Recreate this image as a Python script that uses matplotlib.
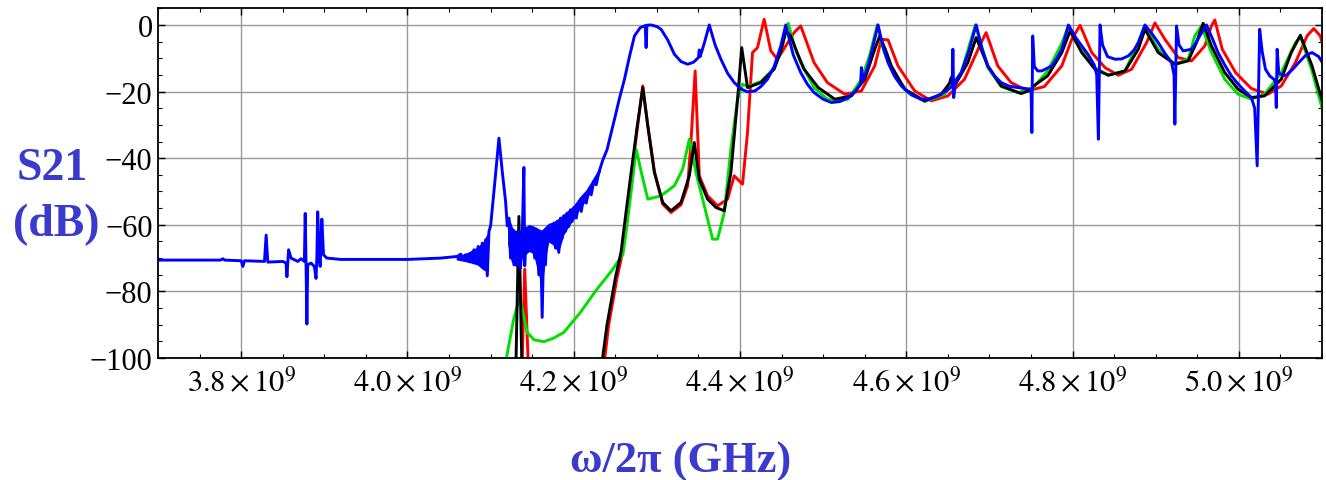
import numpy as np
import matplotlib
matplotlib.use("Agg")
import matplotlib.pyplot as plt
from matplotlib.ticker import MultipleLocator, FuncFormatter

plt.rcParams['font.family'] = 'serif'
plt.rcParams['font.serif'] = ['Liberation Serif', 'DejaVu Serif']
plt.rcParams['mathtext.fontset'] = 'stix'

nan = np.nan

# frequencies in GHz, S21 in dB
blue_f = [3.700, 3.775, 3.778, 3.780, 3.800, 3.802, 3.804, 3.828, 3.830, 3.832,
          3.850, 3.854, 3.855, 3.857, 3.860, 3.868, 3.872, 3.876, 3.877, 3.878,
          3.879, 3.880, 3.884, 3.888, 3.890, 3.891, 3.892, 3.894, 3.895, 3.897,
          3.899, 3.903, 3.920, 4.000, 4.040, 4.060, 4.064, 4.066, 4.070, 4.075,
          4.080, 4.082, 4.085, 4.087, 4.090, 4.092, 4.094, 4.096, 4.098, 4.100,
          4.104, 4.110, 4.114, 4.118, 4.120, 4.122,
          4.124, 4.126, 4.128, 4.130, 4.132, 4.134, 4.136, 4.138, 4.140, 4.141,
          4.143, 4.145, 4.147, 4.149, 4.151, 4.153, 4.155, 4.158, 4.160, 4.162,
          4.164, 4.166, 4.168, 4.170, 4.172, 4.174, 4.176, 4.178, 4.180, 4.182,
          4.184, 4.186, 4.188, 4.190, 4.192, 4.194, 4.196, 4.198, 4.200, 4.203,
          4.206, 4.209, 4.212, 4.215, 4.218, 4.221, 4.224, 4.227, 4.230, 4.235,
          4.240, 4.249, 4.255, 4.261, 4.267, 4.273, 4.280, 4.286, 4.287, 4.288,
          4.293, 4.300, 4.305, 4.313, 4.321, 4.329, 4.337, 4.344, 4.350, 4.351,
          4.352, 4.357, 4.363, 4.370, 4.377, 4.385, 4.393, 4.401, 4.409, 4.418,
          4.425, 4.433, 4.441, 4.449, 4.455, 4.464, 4.473, 4.481, 4.489, 4.500,
          4.510, 4.520, 4.530, 4.540, 4.545, 4.546, 4.548, 4.553, 4.558, 4.566,
          4.572, 4.578, 4.586, 4.594, 4.606, 4.618, 4.628, 4.638, 4.648, 4.655,
          4.656, 4.657, 4.659, 4.666, 4.675, 4.684, 4.691, 4.698, 4.706, 4.714,
          4.724, 4.734, 4.744, 4.750, 4.751, 4.752, 4.754, 4.758, 4.763, 4.775,
          4.781, 4.787, 4.795, 4.803, 4.811, 4.819, 4.826, 4.829, 4.831, 4.833,
          4.836, 4.842, 4.851, 4.859, 4.867, 4.874, 4.879, 4.887, 4.895, 4.903,
          4.911, 4.919, 4.922, 4.923, 4.925, 4.928, 4.933, 4.943, 4.948, 4.953,
          4.961, 4.968, 4.975, 4.983, 4.991, 5.000, 5.007, 5.015, 5.019, 5.022,
          5.025, 5.028, 5.032, 5.037, 5.042, 5.044, 5.045, 5.046, 5.048, 5.056,
          5.064, 5.072, 5.080, 5.088, 5.096, 5.104]
blue_db = [-70.6, -70.6, -70.2, -70.6, -70.8, -72.5, -70.8, -71.0, -63.1, -71.2,
           -71.0, -71.5, -75.6, -67.5, -70.0, -71.0, -70.2, -71.0, -56.6, -72.0,
           -89.8, -72.0, -71.5, -72.5, -76.1, -70.0, -56.1, -70.0, -72.5, -58.3,
           -69.0, -70.0, -70.4, -70.4, -70.0, -69.5, -68.8, -70.0, -69.0, -70.5,
           -67.5, -71.0, -66.5, -72.0, -65.5, -73.0, -64.5, -75.3, -62.0, -60.3,
           -50.0, -34.0, -44.0, -53.0, -60.3, -58.0,
           -70.0, -62.0, -72.0, -63.0, -72.3, -62.0, -73.0, -64.0, -42.8, -72.3,
           -61.0, -68.0, -60.5, -68.0, -61.0, -70.0, -61.3, -75.0, -63.0, -87.8,
           -63.0, -72.0, -61.0, -65.0, -60.0, -64.0, -59.5, -67.0, -59.0, -68.3,
           -58.0, -64.0, -57.3, -62.0, -56.5, -60.5, -55.5, -59.0, -54.8, -58.0,
           -53.5, -56.0, -51.5, -53.5, -49.5, -51.0, -47.0, -48.0, -44.5, -40.5,
           -37.5, -28.3, -22.0, -16.3, -9.5, -3.3, -0.8, -0.2, -6.8, -0.1,
           0.0, -0.5, -1.3, -4.5, -8.8, -11.0, -11.8, -11.2, -9.8, -7.5,
           -9.5, -5.5, 0.0, -6.0, -10.3, -14.5, -17.3, -19.2, -20.1, -19.8,
           -18.5, -16.3, -12.5, -6.3, 0.0, -9.0, -14.3, -17.8, -20.3, -22.3,
           -23.3, -23.0, -21.8, -19.5, -17.5, -12.8, -16.5, -13.0, -8.3, 0.0,
           -6.5, -11.3, -15.5, -18.3, -21.0, -22.3, -22.2, -21.3, -19.8, -18.5,
           -7.3, -21.8, -17.0, -14.3, -8.0, 0.0, -7.0, -12.3, -15.3, -17.3,
           -18.4, -18.8, -19.1, -19.3, -32.3, -3.3, -12.5, -13.8, -13.8, -12.3,
           -10.0, -7.3, 0.0, -3.5, -6.3, -9.0, -12.0, -15.0, -34.3, 0.0,
           -6.0, -9.5, -10.3, -10.2, -9.3, -7.5, -5.3, 0.0, -2.5, -5.3,
           -8.5, -11.3, -15.0, -29.8, -0.3, -6.0, -7.8, -7.3, -5.5, -3.3,
           0.0, -4.0, -8.3, -12.0, -15.3, -18.0, -19.8, -21.8, -25.0, -42.3,
           -1.3, -8.0, -13.3, -15.3, -16.3, -17.0, -24.8, -7.3, -14.5, -15.3,
           -13.5, -11.3, -9.2, -8.3, -9.5, -12.8]

# envelope of the densely ringing parts of the blue trace
band_f = [4.060, 4.070, 4.078, 4.085, 4.092, 4.097, nan,
          4.122, 4.126, 4.130, 4.134, 4.138, 4.142, 4.146, 4.150, 4.154, 4.158,
          4.162, 4.166, 4.170, 4.176, 4.182, 4.188, 4.194, 4.200, 4.208, 4.216,
          4.224, 4.232]
band_top = [-69.5, -69.0, -68.0, -67.0, -65.5, -63.0, nan,
            -58.0, -61.0, -62.0, -62.0, -62.0, -61.0, -60.5, -60.5, -61.0, -61.5,
            -62.0, -61.0, -60.0, -59.5, -58.5, -57.3, -56.0, -54.8, -52.0, -49.8,
            -46.5, -43.0]
band_bot = [-70.5, -71.0, -71.5, -72.0, -73.5, -74.0, nan,
            -66.0, -71.0, -72.3, -72.3, -70.0, -69.0, -68.0, -68.0, -70.0, -74.0,
            -78.0, -70.0, -65.0, -66.0, -68.0, -63.0, -60.5, -58.3, -55.0, -52.3,
            -48.0, -44.0]

black_f = [4.129, 4.134, 4.139, nan,
           4.224, 4.240, 4.250, 4.257, 4.263, 4.269, 4.276, 4.283, 4.289, 4.297,
           4.307, 4.317, 4.329, 4.339, 4.345, 4.351, 4.361, 4.371, 4.381, 4.389,
           4.397, 4.402, 4.409, 4.425, 4.441, 4.449, 4.455, 4.461, 4.469, 4.477,
           4.494, 4.514, 4.534, 4.550, 4.562, 4.568, 4.575, 4.582, 4.598, 4.622,
           4.642, 4.652, 4.654, 4.658, 4.674, 4.684, 4.698, 4.714, 4.738, 4.750,
           4.752, 4.770, 4.787, 4.797, 4.811, 4.827, 4.843, 4.863, 4.879, 4.887,
           4.903, 4.923, 4.939, 4.949, 4.957, 4.967, 4.983, 4.999, 5.015, 5.031,
           5.051, 5.063, 5.074, 5.088, 5.102]
black_db = [-120, -57.5, -120, nan,
            -120, -90.0, -76.0, -68.0, -56.0, -44.3, -31.0, -18.8, -30.3, -44.3,
            -53.3, -55.8, -53.3, -45.3, -35.3, -46.3, -52.3, -54.8, -55.8, -44.3,
            -22.3, -6.8, -18.8, -17.3, -13.3, -8.0, -1.8, -3.3, -8.5, -13.3,
            -18.8, -22.3, -21.3, -16.3, -7.3, -3.3, -7.5, -12.3, -19.3, -22.8,
            -20.8, -17.5, -15.8, -18.3, -11.3, -3.8, -12.3, -18.3, -20.6, -19.5,
            -18.5, -15.3, -8.3, -1.8, -8.3, -13.3, -15.1, -13.8, -7.3, -1.3,
            -8.3, -11.8, -10.8, -5.3, 0.5, -6.3, -14.3, -19.3, -21.8, -21.3,
            -16.3, -8.3, -3.1, -12.3, -24.3]

red_f = [4.136, 4.141, 4.148, nan,
         4.228, 4.242, 4.252, 4.259, 4.265, 4.271, 4.277, 4.283, 4.289, 4.297,
         4.307, 4.317, 4.329, 4.337, 4.341, 4.346, 4.351, 4.361, 4.373, 4.385,
         4.393, 4.403, 4.409, 4.415, 4.421, 4.429, 4.437, 4.445, 4.455, 4.465,
         4.473, 4.489, 4.505, 4.526, 4.546, 4.562, 4.570, 4.578, 4.590, 4.610,
         4.630, 4.650, 4.670, 4.690, 4.696, 4.710, 4.726, 4.746, 4.766, 4.787,
         4.799, 4.809, 4.823, 4.839, 4.855, 4.871, 4.889, 4.899, 4.911, 4.927,
         4.943, 4.959, 4.967, 4.971, 4.980, 4.996, 5.015, 5.035, 5.051, 5.068,
         5.082, 5.090, 5.098, 5.104]
red_db = [-120, -73.3, -120, nan,
          -120, -90.0, -76.0, -68.0, -55.0, -42.0, -30.0, -18.3, -30.0, -44.0,
          -53.8, -56.3, -54.0, -48.3, -35.0, -13.8, -45.3, -51.3, -54.3, -52.3,
          -45.3, -47.8, -32.3, -8.3, -6.8, 1.7, -7.8, -10.3, -6.3, -2.3,
          -0.3, -11.3, -17.3, -20.8, -19.8, -12.3, -4.3, -4.5, -12.3, -19.8,
          -22.8, -21.3, -16.3, -5.3, -2.3, -12.3, -17.3, -19.8, -18.5, -12.3,
          -4.3, -0.1, -8.3, -12.8, -15.1, -13.3, -5.3, 0.6, -4.3, -9.8,
          -10.8, -6.3, -0.3, 1.5, -7.3, -14.3, -19.1, -20.8, -18.3, -11.3,
          -3.3, -1.1, -3.3, -9.0]

green_f = [4.116, 4.119, 4.128, 4.135, 4.144, 4.152, 4.164, 4.176, 4.188, 4.208,
           4.228, 4.245, 4.259, 4.263, 4.269, 4.275, 4.282, 4.289, 4.305, 4.321,
           4.331, 4.339, 4.347, 4.357, 4.367, 4.373, 4.381, 4.389, 4.397, 4.403,
           4.409, 4.425, 4.441, 4.450, 4.458, 4.466, 4.473, 4.489, 4.505, 4.520,
           4.530, 4.546, 4.556, 4.565, 4.573, 4.582, 4.602, 4.622, 4.646, 4.666,
           4.683, 4.698, 4.714, 4.734, 4.752, 4.770, 4.787, 4.795, 4.811, 4.827,
           4.843, 4.863, 4.879, 4.887, 4.903, 4.923, 4.939, 4.947, 4.955, 4.967,
           4.983, 4.999, 5.015, 5.031, 5.051, 5.068, 5.074, 5.088, 5.102]
green_db = [-110, -100.0, -88.0, -81.8, -92.3, -94.5, -95.1, -94.0, -92.3, -86.3,
            -79.3, -74.0, -69.0, -62.0, -50.0, -37.3, -45.0, -52.3, -51.3, -48.3,
            -43.3, -34.3, -44.3, -54.3, -64.3, -64.3, -56.3, -37.3, -22.3, -17.8,
            -18.5, -17.0, -13.0, -7.0, 0.5, -7.0, -11.3, -18.8, -22.3, -22.8,
            -22.3, -16.3, -9.0, 0.0, -8.0, -13.3, -20.3, -23.0, -20.8, -14.3,
            0.0, -12.8, -18.5, -20.3, -19.0, -13.8, -5.5, -0.3, -7.3, -12.8,
            -15.1, -13.8, -5.3, -0.3, -7.3, -11.8, -10.3, -3.3, -0.3, -8.3,
            -16.3, -20.8, -22.3, -20.8, -14.3, -5.3, -3.5, -13.8, -26.8]

xticks_ghz = [3.8, 4.0, 4.2, 4.4, 4.6, 4.8, 5.0]
yticks_db = [0, -20, -40, -60, -80, -100]

label_color = '#3A3ACC'
lw = 2.1

fig = plt.figure(figsize=(13.26, 4.81), dpi=100)
ax = fig.add_axes([0.1192, 0.2536, 0.8778, 0.7271])

# draw order: red under green under black under blue
ax.plot(np.array(red_f) * 1e9, red_db, color='#FF0000', lw=lw)
ax.plot(np.array(green_f) * 1e9, green_db, color='#00E000', lw=lw)
ax.plot(np.array(black_f) * 1e9, black_db, color='black', lw=lw)
ax.fill_between(np.array(band_f) * 1e9, band_bot, band_top, color='#0000FF', lw=1.0)
ax.plot(np.array(blue_f) * 1e9, blue_db, color='#0000FF', lw=lw)

ax.set_xlim(3.7e9, 5.1e9)
ax.set_ylim(-100, 5)

ax.set_xticks(np.array(xticks_ghz) * 1e9)
ax.set_yticks(yticks_db)
ax.xaxis.set_minor_locator(MultipleLocator(0.05e9))
ax.yaxis.set_minor_locator(MultipleLocator(5))
ax.xaxis.set_major_formatter(FuncFormatter(lambda v, p: r"$%.1f\times10^{9}$" % (v / 1e9)))

ax.grid(True, which='major', color='#999999', lw=1.0)
ax.set_axisbelow(True)
ax.tick_params(which='both', direction='in', top=True, right=True)
ax.tick_params(which='major', length=5, width=1.0, labelsize=22)
ax.tick_params(which='minor', length=3, width=0.8)
ax.tick_params(axis='x', pad=7)
ax.tick_params(axis='y', pad=4)
for s in ax.spines.values():
    s.set_linewidth(1.3)

fig.text(17 / 1326, 1 - 180 / 481, 'S21', color=label_color, fontsize=33,
         fontweight='bold', ha='left', va='baseline')
fig.text(13 / 1326, 1 - 236 / 481, '(dB)', color=label_color, fontsize=33,
         fontweight='bold', ha='left', va='baseline')
fig.text(681 / 1326, 1 - 473 / 481, 'ω/2π (GHz)', color=label_color, fontsize=32,
         fontweight='bold', ha='center', va='baseline')

fig.savefig('out.png', dpi=100)
